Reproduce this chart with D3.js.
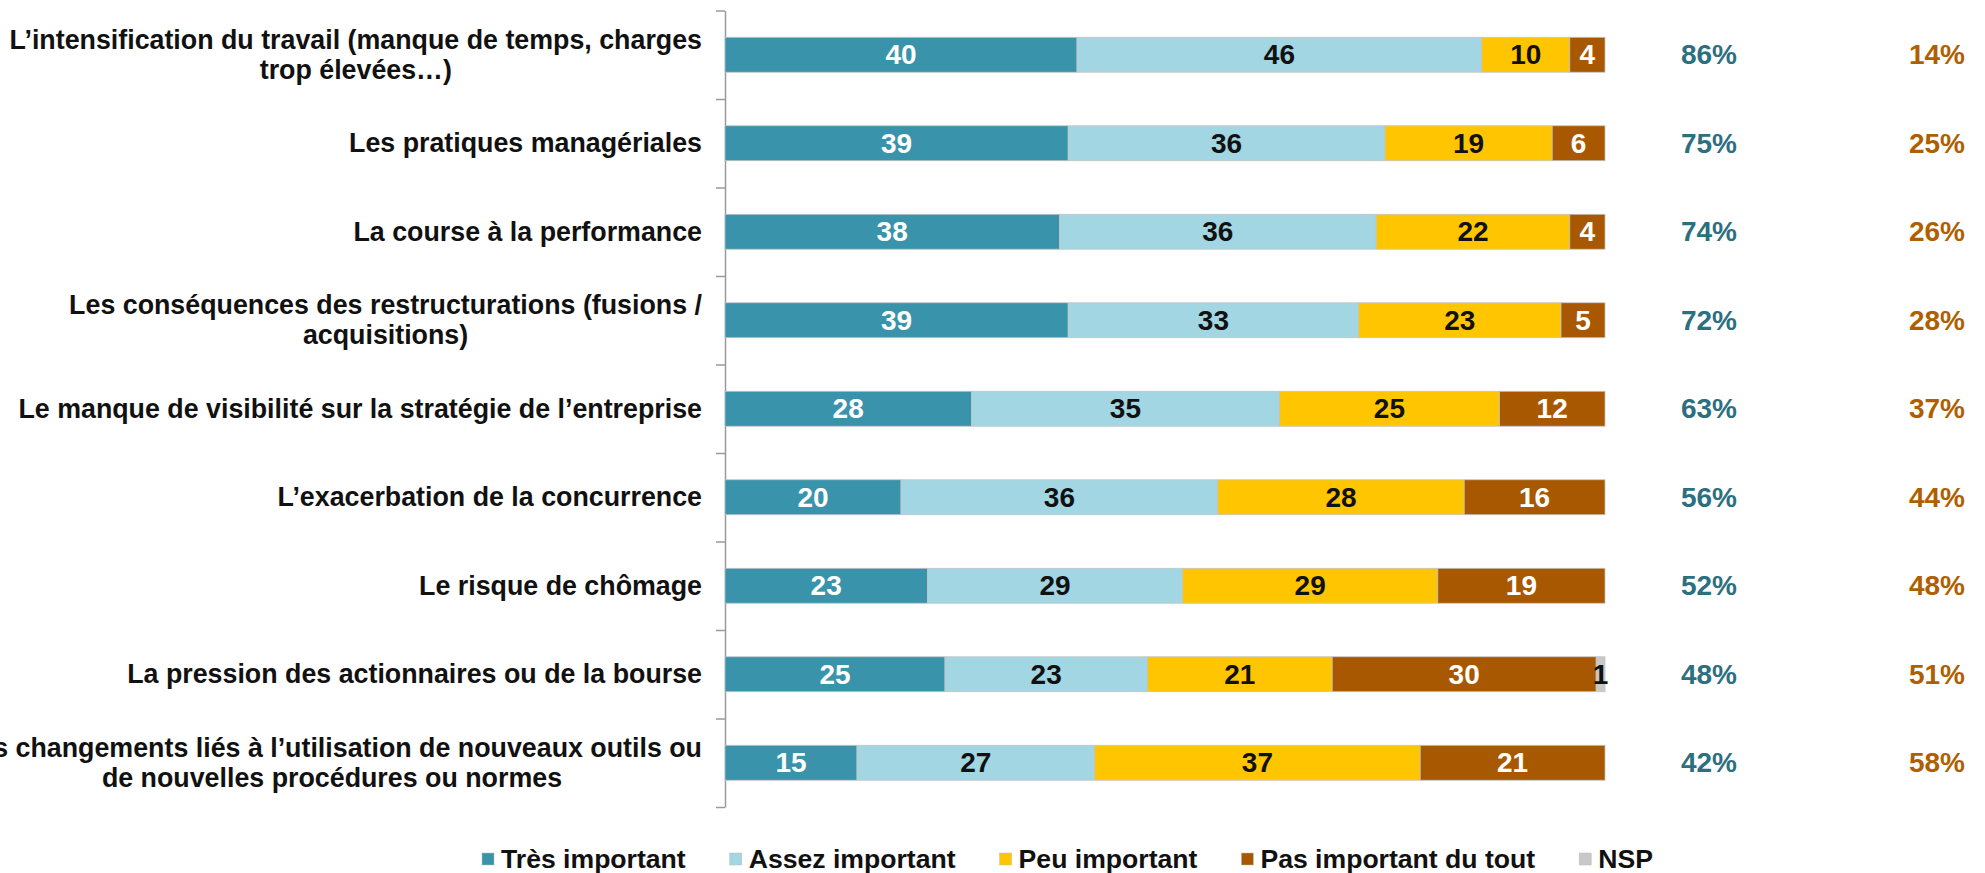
<!DOCTYPE html>
<html lang="fr">
<head>
    <meta charset="UTF-8">
    <title>Facteurs de stress</title>
    <script src="https://cdnjs.cloudflare.com/ajax/libs/d3/7.8.5/d3.min.js"></script>
    <style>
        html, body {
            margin: 0;
            padding: 0;
            background: white;
        }

        svg text {
            font-family: "Liberation Sans", Arial, sans-serif;
            font-weight: bold;
        }

        .cat-label {
            font-size: 26.8px;
            fill: #111;
        }

        .val-label {
            font-size: 28px;
        }

        .pct {
            font-size: 28px;
        }

        .legend text {
            font-size: 26.6px;
            fill: #111;
        }
    </style>
</head>
<body>
<div id="chart"></div>
<script>
    // categories (line breaks as in the original)
    const categories = [
        "L\u2019intensification du travail (manque de temps, charges\ntrop élevées\u2026)",
        "Les pratiques managériales",
        "La course à la performance",
        "Les conséquences des restructurations (fusions /\nacquisitions)",
        "Le manque de visibilité sur la stratégie de l\u2019entreprise",
        "L\u2019exacerbation de la concurrence",
        "Le risque de chômage",
        "La pression des actionnaires ou de la bourse",
        "Les changements liés à l\u2019utilisation de nouveaux outils ou\nde nouvelles procédures ou normes"
    ];

    const seriesNames = ["Très important", "Assez important", "Peu important", "Pas important du tout", "NSP"];

    const tresImportant = [40, 39, 38, 39, 28, 20, 23, 25, 15];
    const assezImportant = [46, 36, 36, 33, 35, 36, 29, 23, 27];
    const peuImportant = [10, 19, 22, 23, 25, 28, 29, 21, 37];
    const pasImportant = [4, 6, 4, 5, 12, 16, 19, 30, 21];
    const nsp = [0, 0, 0, 0, 0, 0, 0, 1, 0];

    const totalImportant = [86, 75, 74, 72, 63, 56, 52, 48, 42];
    const totalPasImportant = [14, 25, 26, 28, 37, 44, 48, 51, 58];

    const colors = ["#3993aa", "#a2d6e2", "#ffc600", "#a85800", "#c8c8c8"];
    const textColors = ["#fff", "#111", "#111", "#fff", "#111"];

    const width = 1985;
    const height = 873;

    const svg = d3.select('#chart')
        .append('svg')
        .attr('width', width)
        .attr('height', height);

    const rows = categories.map((c, i) => ({
        cat: c,
        s0: tresImportant[i],
        s1: assezImportant[i],
        s2: peuImportant[i],
        s3: pasImportant[i],
        s4: nsp[i]
    }));

    const keys = ["s0", "s1", "s2", "s3", "s4"];
    const stacked = d3.stack().keys(keys)(rows);

    const axisX = 725;
    const plotTop = 10.5;
    const plotBottom = 807;

    const x = d3.scaleLinear().domain([0, 100]).range([axisX, 1605]);
    const pad = 0.605;
    const y = d3.scaleBand()
        .domain(categories)
        .range([plotTop, plotBottom])
        .paddingInner(pad)
        .paddingOuter(pad / 2);

    // axis with ticks on band boundaries
    const yEdges = d3.scaleLinear().domain([0, categories.length]).range([plotTop, plotBottom]);
    const yAxis = d3.axisLeft(yEdges)
        .tickValues(d3.range(categories.length + 1))
        .tickFormat('')
        .tickSize(9)
        .tickSizeOuter(0);
    const axisG = svg.append('g')
        .attr('transform', `translate(${axisX}, 0)`)
        .call(yAxis);
    axisG.selectAll('path, line').attr('stroke', '#9a9a9a').attr('stroke-width', 1.5);

    // bars
    const layers = svg.append('g').selectAll('g')
        .data(stacked)
        .join('g')
        .attr('fill', (d, i) => colors[i]);

    layers.selectAll('rect')
        .data(d => d)
        .join('rect')
        .attr('x', d => x(d[0]))
        .attr('y', d => y(d.data.cat))
        .attr('width', d => x(d[1]) - x(d[0]))
        .attr('height', y.bandwidth())
        .attr('stroke', '#c4c4c4')
        .attr('stroke-width', 0.8);

    // values in bars
    stacked.forEach((layer, li) => {
        svg.append('g').selectAll('text')
            .data(layer.filter(d => d[1] - d[0] > 0))
            .join('text')
            .attr('class', 'val-label')
            .attr('x', d => (x(d[0]) + x(d[1])) / 2)
            .attr('y', d => y(d.data.cat) + y.bandwidth() / 2)
            .attr('text-anchor', 'middle')
            .attr('dominant-baseline', 'central')
            .attr('fill', textColors[li])
            .text(d => d[1] - d[0]);
    });

    // category labels, multi-line blocks centred and right-aligned to the axis
    const labelRight = 702;
    const lineGap = 30;
    categories.forEach(c => {
        const lines = c.split('\n');
        const cy = y(c) + y.bandwidth() / 2;
        const t = svg.append('text')
            .attr('class', 'cat-label')
            .attr('dominant-baseline', 'central');
        if (lines.length === 1) {
            t.attr('x', labelRight).attr('y', cy).attr('text-anchor', 'end').text(c);
            return;
        }
        const spans = lines.map((l, i) => t.append('tspan')
            .attr('y', cy + (i - (lines.length - 1) / 2) * lineGap)
            .text(l));
        const w = d3.max(spans, s => s.node().getComputedTextLength());
        t.attr('text-anchor', 'middle');
        spans.forEach(s => s.attr('x', labelRight - w / 2));
    });

    // totals on the right
    svg.append('g').selectAll('text')
        .data(totalImportant)
        .join('text')
        .attr('class', 'pct')
        .attr('x', 1709)
        .attr('y', (d, i) => y(categories[i]) + y.bandwidth() / 2)
        .attr('text-anchor', 'middle')
        .attr('dominant-baseline', 'central')
        .attr('fill', '#2c6f7f')
        .text(d => d + '%');

    svg.append('g').selectAll('text')
        .data(totalPasImportant)
        .join('text')
        .attr('class', 'pct')
        .attr('x', 1937)
        .attr('y', (d, i) => y(categories[i]) + y.bandwidth() / 2)
        .attr('text-anchor', 'middle')
        .attr('dominant-baseline', 'central')
        .attr('fill', '#b05f00')
        .text(d => d + '%');

    // legend
    const legend = svg.append('g').attr('class', 'legend');
    let lx = 482;
    const ly = 859;
    seriesNames.forEach((name, i) => {
        legend.append('rect')
            .attr('x', lx)
            .attr('y', ly - 6)
            .attr('width', 12)
            .attr('height', 12)
            .attr('fill', colors[i])
            .attr('stroke', '#bbb')
            .attr('stroke-width', 0.5);
        const t = legend.append('text')
            .attr('x', lx + 19)
            .attr('y', ly)
            .attr('dominant-baseline', 'central')
            .text(name);
        lx += 19 + t.node().getComputedTextLength() + 44;
    });
</script>
</body>
</html>
